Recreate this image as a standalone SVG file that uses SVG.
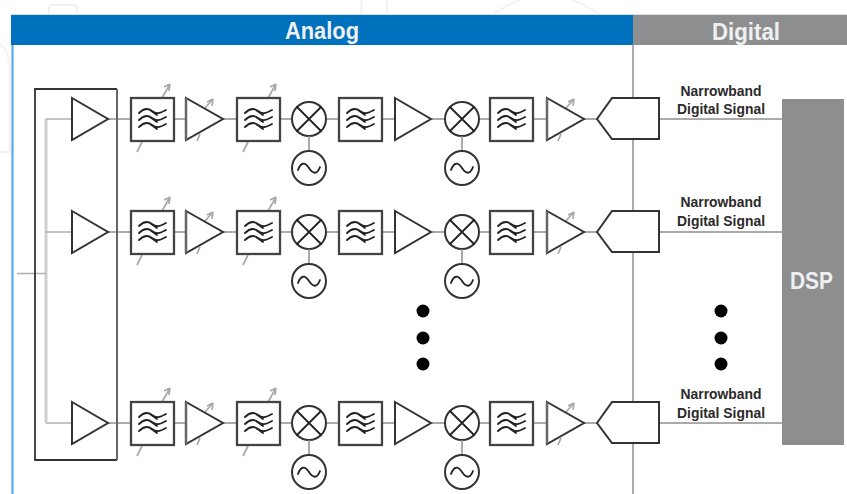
<svg xmlns="http://www.w3.org/2000/svg" width="847" height="494" viewBox="0 0 847 494">
<style>
.s{fill:#fff;stroke:#333335;stroke-width:2}
.b{fill:#fff;stroke:#444;stroke-width:2.300}
.w{fill:none;stroke:#222;stroke-width:1.800;stroke-linecap:round}
.g{fill:none;stroke:#a8a8a8;stroke-width:1.700}
.c{fill:none;stroke:#8d8e90;stroke-width:1.500}
.f{font-family:"Liberation Sans",Arial,sans-serif;font-weight:bold}
.h{font-size:24px;fill:#f0f0f0;text-anchor:middle}
.n{font-size:14px;fill:#2a2a2a;text-anchor:middle}
.d{fill:#000}
.deco{fill:none;stroke:#f0f1f1;stroke-width:1.800}
</style>
<defs>
<g id="wave"><path class="w" d="M8-6c5-5 9-5 13-2s7 3 14-1M8 1c5-5 9-5 13-2s7 3 14-1M8 8c5-5 9-5 13-2s7 3 14-1M19-9l7 5M19-2l7 5M19 5l7 5"/></g>
<g id="filter"><rect class="b" x="0" y="-21" width="43" height="43"/><use href="#wave"/></g>
<g id="vfilter">
<path class="g" d="M31-21L39-35M39-35l-1 7M39-35l-6 3M6 33L11 23"/>
<use href="#filter"/>
</g>
<path id="amp" class="s" d="M0-21L36 0L0 21Z"/>
<g id="vamp">
<path class="g" d="M19-11L27-20M27-20l-1 7M27-20l-6 3M11 22L14 15"/>
<path class="s" style="fill:none" d="M0-21L37 0L0 21Z"/>
<path d="M0-21V21" stroke="#666" stroke-width="2.500"/>
</g>
<g id="mixer"><circle class="s" r="17"/><path class="w" d="M-12-12L12 12M12-12L-12 12"/></g>
<g id="lo"><path class="c" d="M0-32V-17"/><circle class="s" r="17"/><path class="w" d="M-11 2c3-8 7-8 11-2s8 7 11-1"/></g>
<path id="adc" class="s" d="M0 0L15-21H62V20H15Z"/>
</defs>

<g id="background">
<path class="deco" d="M49 15V7q0-2 2-2H75q2 0 2 2V15"/>
<path class="deco" d="M0 44Q10 50 10 75V152H0"/>
<path class="deco" d="M361.500 0V15M387 0V15"/>
<path class="deco" d="M492 15Q512 2 520 0M572 0Q588 6 600 15"/>
<path d="M11 14.500H847" stroke="#d8dde2" stroke-width="1"/>
</g>

<g id="panels">
<path d="M12.500 16V494" fill="none" stroke="#5aa9e6" stroke-width="2.200"/>
<rect x="11" y="15" width="622" height="30" fill="#0071bc"/>
<rect x="633" y="15" width="214" height="30" fill="#8d8e90"/>
<text class="f h" x="322" y="39" textLength="74" lengthAdjust="spacingAndGlyphs">Analog</text>
<text class="f h" x="746" y="40" textLength="68" lengthAdjust="spacingAndGlyphs">Digital</text>
</g>

<g id="connectors">
<path class="c" d="M633 44V494"/>
<path d="M46 119V423" fill="none" stroke="#cfcfcf" stroke-width="3"/>
<path d="M17 273.500H46M46 119H72M46 232H72M46 423H72" fill="none" stroke="#b0b0b0" stroke-width="1.600"/>
<path class="c" d="M108 119H131M174 119H186M223 119H237M280 119H292M326 119H339M382 119H395M432 119H445M479 119H490M533 119H547M584 119H597M659 119H782"/>
<path class="c" d="M108 232H131M174 232H186M223 232H237M280 232H292M326 232H339M382 232H395M432 232H445M479 232H490M533 232H547M584 232H597M659 232H782"/>
<path class="c" d="M108 423H131M174 423H186M223 423H237M280 423H292M326 423H339M382 423H395M432 423H445M479 423H490M533 423H547M584 423H597M659 423H782"/>
</g>

<g id="splitter"><path d="M117 89H35V460H117" fill="none" stroke="#333" stroke-width="1.800"/><path d="M117 89V460" fill="none" stroke="#666" stroke-width="2"/></g>

<g id="r1" transform="translate(0,119)">
<g id="r1-lna"><use href="#amp" x="72"/></g>
<g id="r1-f1"><use href="#vfilter" x="131"/></g>
<g id="r1-a2"><use href="#vamp" x="186"/></g>
<g id="r1-f2"><use href="#vfilter" x="237"/></g>
<g id="r1-m1"><use href="#mixer" x="309"/></g>
<g id="r1-lo1"><use href="#lo" x="309" y="49"/></g>
<g id="r1-f3"><use href="#filter" x="339"/></g>
<g id="r1-a3"><use href="#amp" x="395"/></g>
<g id="r1-m2"><use href="#mixer" x="462"/></g>
<g id="r1-lo2"><use href="#lo" x="462" y="49"/></g>
<g id="r1-f4"><use href="#filter" x="490"/></g>
<g id="r1-a4"><use href="#vamp" x="547"/></g>
<g id="r1-adc"><use href="#adc" x="597"/></g>
</g>
<g id="r2" transform="translate(0,232)">
<g id="r2-lna"><use href="#amp" x="72"/></g>
<g id="r2-f1"><use href="#vfilter" x="131"/></g>
<g id="r2-a2"><use href="#vamp" x="186"/></g>
<g id="r2-f2"><use href="#vfilter" x="237"/></g>
<g id="r2-m1"><use href="#mixer" x="309"/></g>
<g id="r2-lo1"><use href="#lo" x="309" y="49"/></g>
<g id="r2-f3"><use href="#filter" x="339"/></g>
<g id="r2-a3"><use href="#amp" x="395"/></g>
<g id="r2-m2"><use href="#mixer" x="462"/></g>
<g id="r2-lo2"><use href="#lo" x="462" y="49"/></g>
<g id="r2-f4"><use href="#filter" x="490"/></g>
<g id="r2-a4"><use href="#vamp" x="547"/></g>
<g id="r2-adc"><use href="#adc" x="597"/></g>
</g>
<g id="r3" transform="translate(0,423)">
<g id="r3-lna"><use href="#amp" x="72"/></g>
<g id="r3-f1"><use href="#vfilter" x="131"/></g>
<g id="r3-a2"><use href="#vamp" x="186"/></g>
<g id="r3-f2"><use href="#vfilter" x="237"/></g>
<g id="r3-m1"><use href="#mixer" x="309"/></g>
<g id="r3-lo1"><use href="#lo" x="309" y="49"/></g>
<g id="r3-f3"><use href="#filter" x="339"/></g>
<g id="r3-a3"><use href="#amp" x="395"/></g>
<g id="r3-m2"><use href="#mixer" x="462"/></g>
<g id="r3-lo2"><use href="#lo" x="462" y="49"/></g>
<g id="r3-f4"><use href="#filter" x="490"/></g>
<g id="r3-a4"><use href="#vamp" x="547"/></g>
<g id="r3-adc"><use href="#adc" x="597"/></g>
</g>

<g id="dsp">
<rect x="782" y="99" width="62" height="346" fill="#8d8e90"/>
<text class="f h" x="811.500" y="289" textLength="43" lengthAdjust="spacingAndGlyphs">DSP</text>
</g>

<g id="labels">
<text class="f n" x="721" y="95.500" textLength="81" lengthAdjust="spacingAndGlyphs">Narrowband</text>
<text class="f n" x="721" y="114" textLength="88" lengthAdjust="spacingAndGlyphs">Digital Signal</text>
<text class="f n" x="721" y="207" textLength="81" lengthAdjust="spacingAndGlyphs">Narrowband</text>
<text class="f n" x="721" y="225.500" textLength="88" lengthAdjust="spacingAndGlyphs">Digital Signal</text>
<text class="f n" x="721" y="399" textLength="81" lengthAdjust="spacingAndGlyphs">Narrowband</text>
<text class="f n" x="721" y="417.500" textLength="88" lengthAdjust="spacingAndGlyphs">Digital Signal</text>
</g>

<g id="ellipsis">
<circle class="d" cx="423" cy="311" r="6.500"/><circle class="d" cx="423" cy="338" r="6.500"/><circle class="d" cx="423" cy="364" r="6.500"/>
<circle class="d" cx="721" cy="311" r="6.500"/><circle class="d" cx="721" cy="338" r="6.500"/><circle class="d" cx="721" cy="364" r="6.500"/>
</g>
</svg>
